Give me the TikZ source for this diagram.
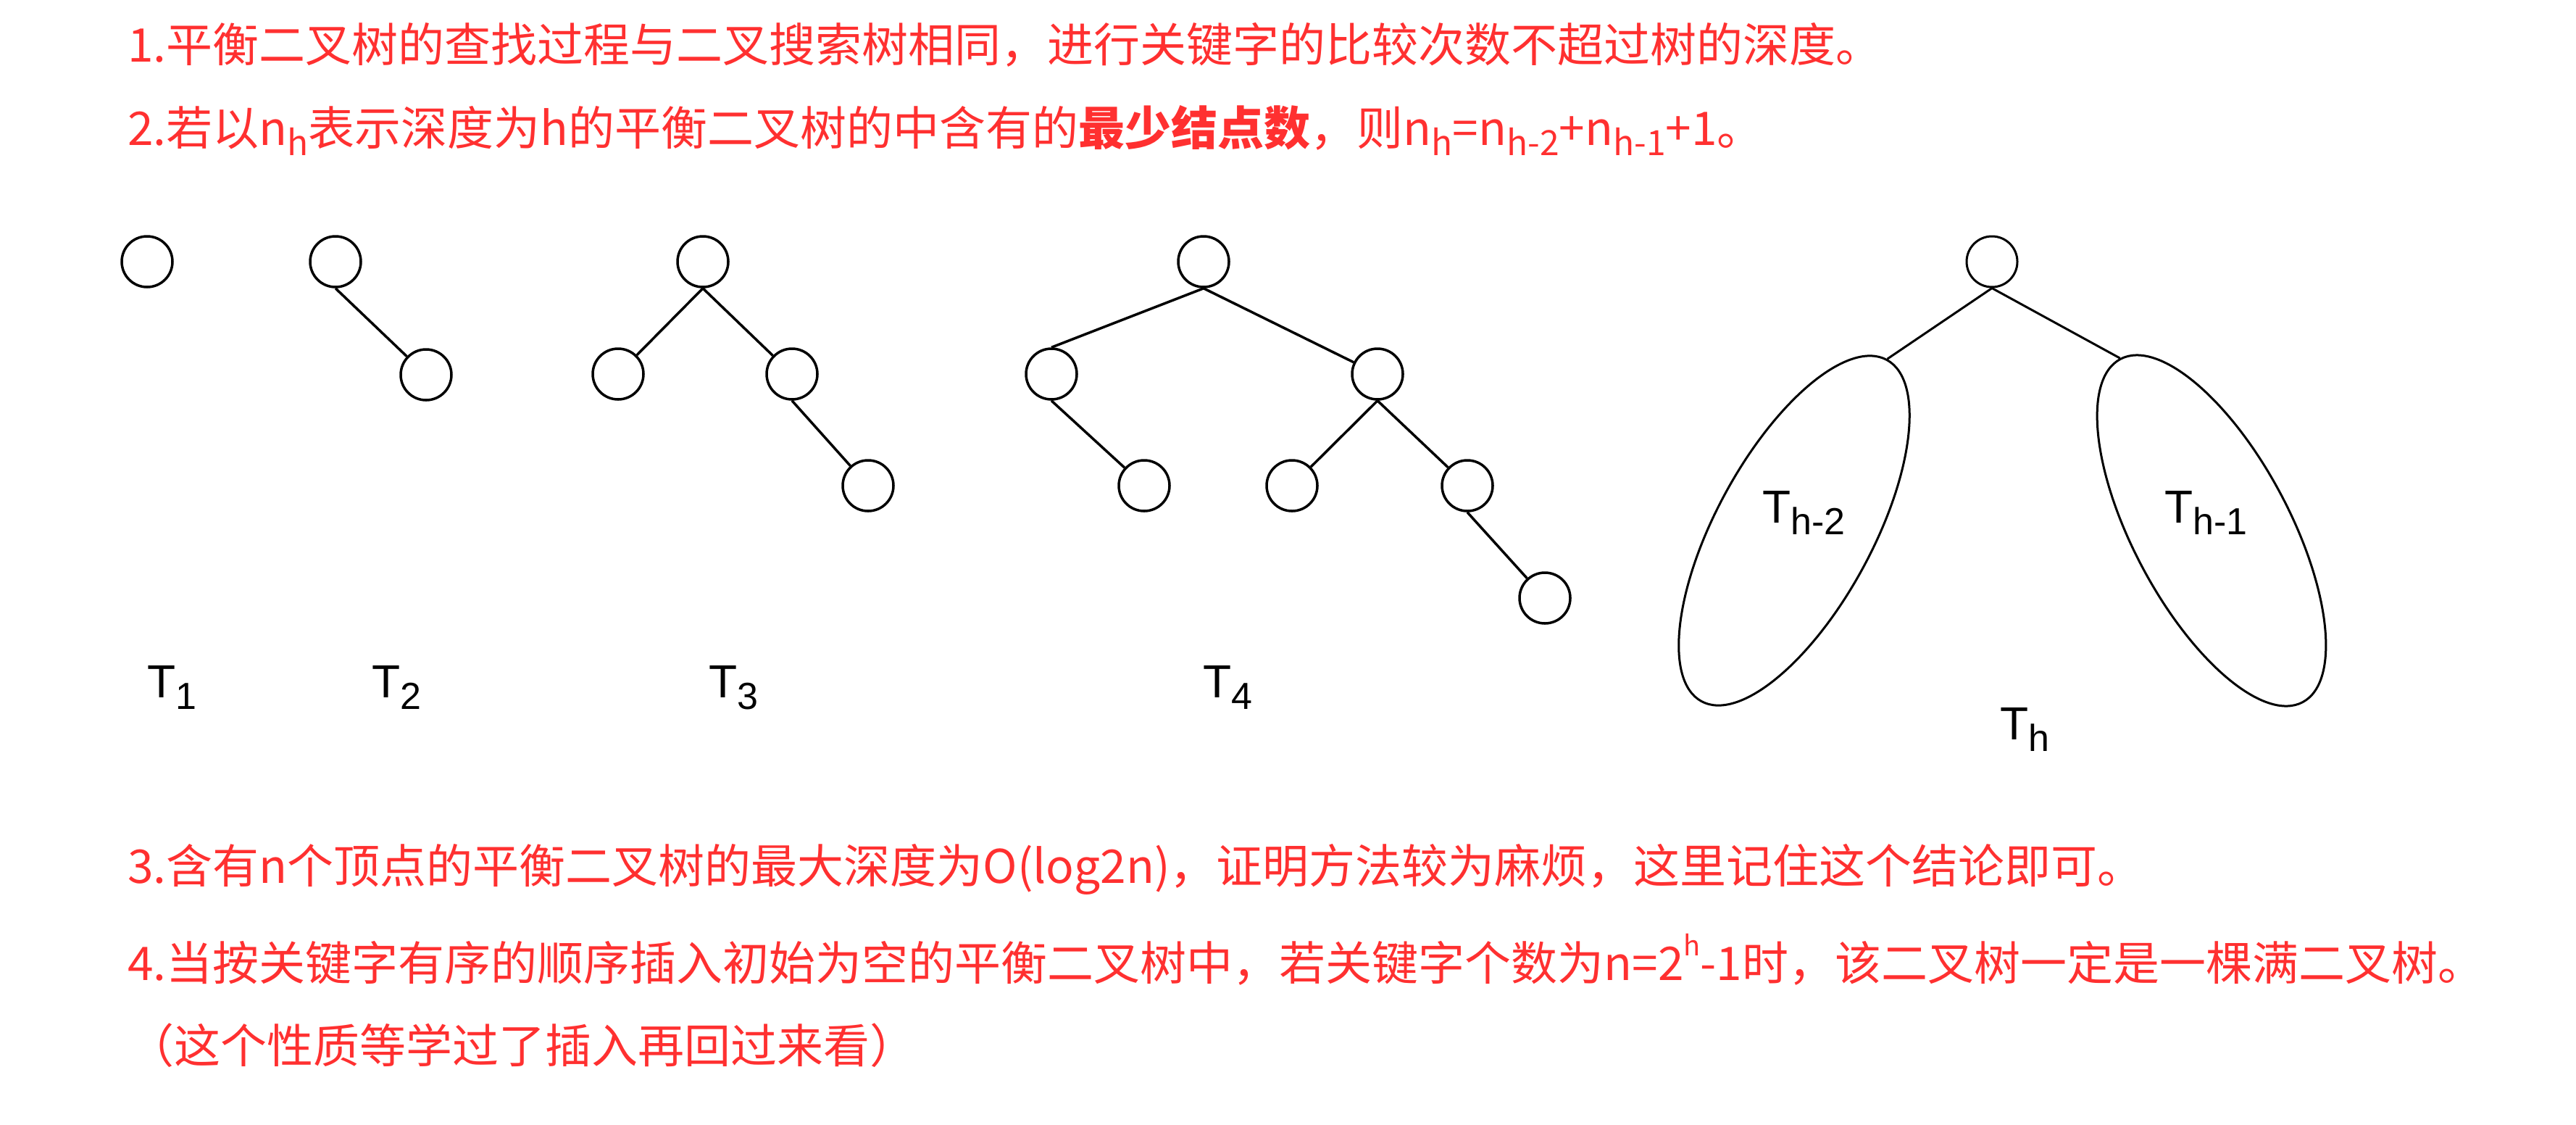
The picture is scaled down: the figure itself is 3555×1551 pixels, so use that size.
\documentclass[tikz,border=0pt]{standalone}
\usepackage{fontspec}
\setmainfont{Noto Sans CJK SC}
\newfontfamily\latfont{Liberation Sans}
\usetikzlibrary{shapes.geometric}
\definecolor{notered}{RGB}{255,48,48}
\newcommand\nsub[1]{\raisebox{-14pt}{\fontsize{48}{48}\selectfont #1}}
\newcommand\nsup[1]{\raisebox{34pt}{\fontsize{38}{38}\selectfont #1}}
\newcommand\tsub[1]{\raisebox{-16pt}{\fontsize{52}{52}\selectfont #1}}
\begin{document}
\begin{tikzpicture}[x=1pt,y=-1pt,
  nd/.style={circle,draw,minimum size=70pt,inner sep=0pt,line width=3.5pt},
  edge/.style={line width=3.5pt},
  thinedge/.style={line width=3pt},
  ell/.style={ellipse,draw,minimum width=536pt,minimum height=216pt,inner sep=0pt,line width=3pt},
  txt/.style={anchor=base west,inner sep=0pt,text=notered,font=\fontsize{64}{76}\selectfont},
  lab/.style={anchor=base west,inner sep=0pt,font=\latfont\fontsize{64}{76}\selectfont}]
\useasboundingbox[fill=white] (0,0) rectangle (3555,1551);

% text lines
\node[txt] (l1) at (176,85) {1.平衡二叉树的查找过程与二叉搜索树相同，进行关键字的比较次数不超过树的深度。};
\node[txt] (l2) at (176,200) {2.若以n\nsub{h}表示深度为h的平衡二叉树的中含有的\textbf{最少结点数}，则n\nsub{h}=n\nsub{h-2}+n\nsub{h-1}+1。};
\node[txt] (l3) at (176,1218) {3.含有n个顶点的平衡二叉树的最大深度为O(log2n)，证明方法较为麻烦，这里记住这个结论即可。};
\node[txt] (l4) at (176,1352) {4.当按关键字有序的顺序插入初始为空的平衡二叉树中，若关键字个数为n=2\nsup{h}-1时，该二叉树一定是一棵满二叉树。};
\node[txt] (l5) at (176,1466) {（这个性质等学过了插入再回过来看）};

% T1
\node[nd] (t1) at (203,361) {};
% T2
\node[nd] (a1) at (463,361) {};
\node[nd] (a2) at (588,517) {};
\draw[edge] (a1.south) -- (a2);
% T3
\node[nd] (b1) at (970,361) {};
\node[nd] (b2) at (853,516) {};
\node[nd] (b3) at (1093,516) {};
\node[nd] (b4) at (1198,670) {};
\draw[edge] (b1.south) -- (b2);
\draw[edge] (b1.south) -- (b3);
\draw[edge] (b3.south) -- (b4);
% T4
\node[nd] (c1) at (1661,361) {};
\node[nd] (c2) at (1451,516) {};
\node[nd] (c3) at (1901,516) {};
\node[nd] (c4) at (1579,670) {};
\node[nd] (c5) at (1783,670) {};
\node[nd] (c6) at (2025,670) {};
\node[nd] (c7) at (2132,825) {};
\draw[edge] (c1.south) -- (c2.north);
\draw[edge] (c1.south) -- (c3);
\draw[edge] (c2.south) -- (c4);
\draw[edge] (c3.south) -- (c5);
\draw[edge] (c3.south) -- (c6);
\draw[edge] (c6.south) -- (c7);
% Th
\node[nd,line width=3pt] (h0) at (2749,361) {};
\node[ell,rotate=61.5] (el) at (2476,732) {};
\node[ell,rotate=118] (er) at (3052,732) {};
\draw[thinedge] (h0.south) -- (el.east);
\draw[thinedge] (h0.south) -- (er.east);

% labels
\node[lab] (lt1) at (203,962) {T\tsub{1}};
\node[lab] (lt2) at (513,962) {T\tsub{2}};
\node[lab] (lt3) at (978,962) {T\tsub{3}};
\node[lab] (lt4) at (1660,962) {T\tsub{4}};
\node[lab] (lth) at (2760,1020) {T\tsub{h}};
\node[lab] (lth2) at (2432,721) {T\tsub{h-2}};
\node[lab] (lth1) at (2987,721) {T\tsub{h-1}};
\end{tikzpicture}
\end{document}
